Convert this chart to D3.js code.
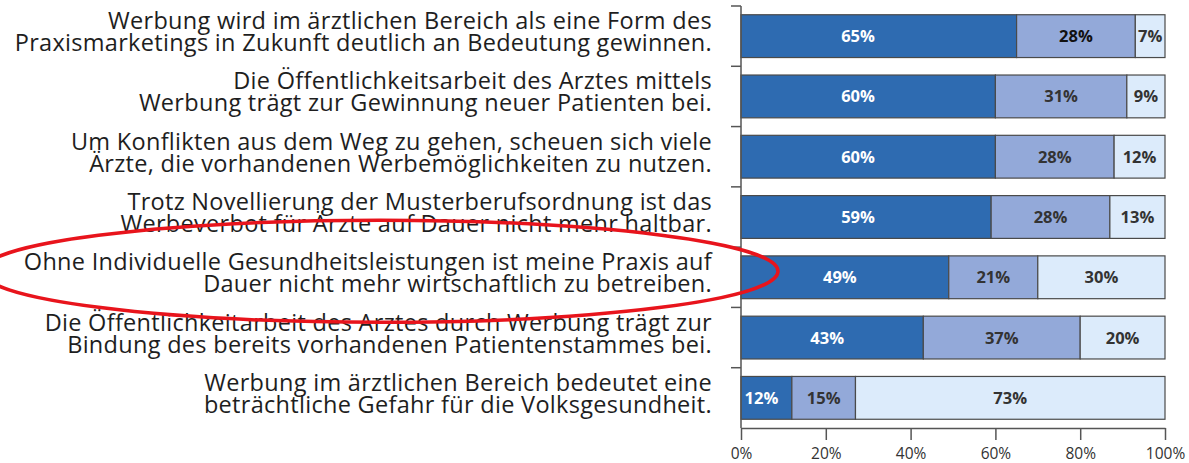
<!DOCTYPE html>
<html><head><meta charset="utf-8">
<script src="https://cdn.jsdelivr.net/npm/d3@7"></script>
<style>body{margin:0;background:#fff}svg{display:block}</style>
</head><body>
<script>
const statements = [
  ["Werbung wird im ärztlichen Bereich als eine Form des","Praxismarketings in Zukunft deutlich an Bedeutung gewinnen."],
  ["Die Öffentlichkeitsarbeit des Arztes mittels","Werbung trägt zur Gewinnung neuer Patienten bei."],
  ["Um Konflikten aus dem Weg zu gehen, scheuen sich viele","Ärzte, die vorhandenen Werbemöglichkeiten zu nutzen."],
  ["Trotz Novellierung der Musterberufsordnung ist das","Werbeverbot für Ärzte auf Dauer nicht mehr haltbar."],
  ["Ohne Individuelle Gesundheitsleistungen ist meine Praxis auf","Dauer nicht mehr wirtschaftlich zu betreiben."],
  ["Die Öffentlichkeitarbeit des Arztes durch Werbung trägt zur","Bindung des bereits vorhandenen Patientenstammes bei."],
  ["Werbung im ärztlichen Bereich bedeutet eine","beträchtliche Gefahr für die Volksgesundheit."]
];
const agree    = [65, 60, 60, 59, 49, 43, 12];
const neutral  = [28, 31, 28, 28, 21, 37, 15];
const disagree = [7, 9, 12, 13, 30, 20, 73];
const tickValues = [0, 20, 40, 60, 80, 100];
const highlighted = 4;

const W = 1189, H = 463;
const svg = d3.select("body").append("svg").attr("width", W).attr("height", H);
const font = "'Open Sans', 'DejaVu Sans', sans-serif";

const x = d3.scaleLinear().domain([0, 100]).range([741, 1165]);
const y = d3.scaleBand().domain(d3.range(statements.length)).range([6, 428]).paddingInner(0.29).paddingOuter(0.145);

const colors = ["#2e6bb1", "#93a9d9", "#dcebfb"];
const series = [agree, neutral, disagree];

const rows = statements.map((s, i) => {
  let acc = 0;
  return series.map((arr, k) => { const seg = {i, k, v: arr[i], x0: acc, x1: acc + arr[i]}; acc += arr[i]; return seg; });
}).flat();

svg.append("g").selectAll("rect").data(rows).join("rect")
  .attr("x", d => x(d.x0)).attr("y", d => y(d.i))
  .attr("width", d => x(d.x1) - x(d.x0)).attr("height", y.bandwidth())
  .attr("fill", d => colors[d.k]).attr("stroke", "#4a4a4a").attr("stroke-width", 1.2);

svg.append("g").selectAll("text").data(rows).join("text")
  .attr("x", d => d.k === 0 ? Math.min(858, (x(d.x0) + x(d.x1)) / 2 - 5) : (x(d.x0) + x(d.x1)) / 2)
  .attr("y", d => y(d.i) + y.bandwidth() / 2 + 6)
  .attr("text-anchor", "middle")
  .attr("font-family", font).attr("font-weight", "bold").attr("font-size", 16.5)
  .attr("fill", d => d.k === 0 ? "#ffffff" : (d.k === 1 && d.i === 0 ? "#111" : "#333"))
  .text(d => d.v + "%");

// y axis
const yAxisG = svg.append("g");
yAxisG.append("line").attr("x1", 741).attr("x2", 741).attr("y1", 6).attr("y2", 428).attr("stroke", "#555").attr("stroke-width", 1.5);
const bounds = d3.range(statements.length).map(i => y(i) - y.step() * y.paddingInner() / 2);
yAxisG.selectAll("line.t").data(bounds).join("line").attr("class", "t")
  .attr("x1", 731).attr("x2", 741).attr("y1", d => d).attr("y2", d => d).attr("stroke", "#555").attr("stroke-width", 1.5);

// x axis
const xAxis = d3.axisBottom(x).tickValues(tickValues).tickFormat(d => d + "%").tickSize(12).tickSizeOuter(0);
const xg = svg.append("g").attr("transform", "translate(0,428)").call(xAxis);
xg.select(".domain").attr("stroke", "#555").attr("stroke-width", 1.5);
xg.selectAll(".tick line").attr("stroke", "#555").attr("stroke-width", 1.5);
xg.selectAll(".tick text").attr("font-family", font).attr("font-size", 15.5).attr("fill", "#333")
  .attr("y", 0).attr("dy", 0).attr("transform", "translate(0,31)");

// category labels
const lab = svg.append("g");
statements.forEach((lines, i) => {
  const cy = y(i) + y.bandwidth() / 2;
  lines.forEach((ln, j) => {
    lab.append("text").attr("x", 712).attr("y", cy + (j === 0 ? -7 : 15))
      .attr("text-anchor", "end").attr("font-family", font).attr("font-size", 23.5)
      .attr("letter-spacing", 0.3).attr("fill", "#1e1e1e")
      .text(ln);
  });
});

// red highlight ellipse
const cyH = y(highlighted) + y.bandwidth() / 2 - 6;
svg.append("ellipse").attr("cx", 380).attr("cy", cyH).attr("rx", 398).attr("ry", 51)
  .attr("fill", "none").attr("stroke", "#e8141c").attr("stroke-width", 3.5);
</script>
</body></html>
